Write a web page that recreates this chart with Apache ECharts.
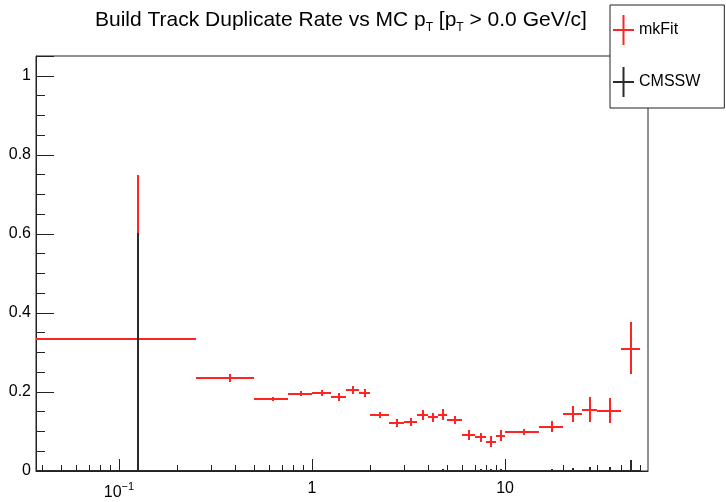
<!DOCTYPE html>
<html>
<head>
<meta charset="utf-8">
<script src="https://cdn.jsdelivr.net/npm/echarts@6/dist/echarts.min.js"></script>
<style>
  html, body { margin: 0; padding: 0; background: #fff; }
  #container { width: 726px; height: 502px; }
</style>
</head>
<body>
<div id="container"></div>
<script>
var font = 'Liberation Sans, Arial, Helvetica, sans-serif';

// pT bins (GeV/c)
var binLow    = [0, 0.25, 0.5, 0.75, 1.0, 1.25, 1.5, 1.75, 2.0, 2.5, 3.0, 3.5, 4.0, 4.5, 5, 6, 7, 8, 9, 10, 15, 20, 25, 30, 40];
var binHigh   = [0.25, 0.5, 0.75, 1.0, 1.25, 1.5, 1.75, 2.0, 2.5, 3.0, 3.5, 4.0, 4.5, 5, 6, 7, 8, 9, 10, 15, 20, 25, 30, 40, 50];
var binCenter = [0.125, 0.375, 0.625, 0.875, 1.125, 1.375, 1.625, 1.875, 2.25, 2.75, 3.25, 3.75, 4.25, 4.75, 5.5, 6.5, 7.5, 8.5, 9.5, 12.5, 17.5, 22.5, 27.5, 35, 45];

// mkFit duplicate rate and asymmetric errors
var mkFitRate    = [0.333, 0.235, 0.182, 0.196, 0.197, 0.188, 0.205, 0.197, 0.142, 0.122, 0.125, 0.142, 0.136, 0.142, 0.129, 0.091, 0.085, 0.074, 0.089, 0.099, 0.112, 0.144, 0.154, 0.152, 0.308];
var mkFitErrLow  = [0.25, 0.01, 0.005, 0.007, 0.008, 0.01, 0.01, 0.01, 0.008, 0.01, 0.01, 0.012, 0.012, 0.014, 0.01, 0.012, 0.012, 0.014, 0.014, 0.008, 0.014, 0.02, 0.03, 0.03, 0.062];
var mkFitErrHigh = [0.416, 0.01, 0.005, 0.007, 0.008, 0.01, 0.01, 0.01, 0.008, 0.01, 0.01, 0.012, 0.012, 0.014, 0.01, 0.012, 0.012, 0.014, 0.014, 0.008, 0.014, 0.02, 0.032, 0.032, 0.068];

// CMSSW: zero everywhere, only upper errors
var cmsswRate    = [0, 0, 0, 0, 0, 0, 0, 0, 0, 0, 0, 0, 0, 0, 0, 0, 0, 0, 0, 0, 0, 0, 0, 0, 0];
var cmsswErrLow  = [0, 0, 0, 0, 0, 0, 0, 0, 0, 0, 0, 0, 0, 0, 0, 0, 0, 0, 0, 0, 0, 0, 0, 0, 0];
var cmsswErrHigh = [0.602, 0, 0, 0, 0, 0, 0, 0, 0, 0, 0, 0, 0, 0.005, 0, 0, 0.005, 0.005, 0.005, 0, 0.005, 0.007, 0.009, 0.009, 0.027];

// axis ticks
var xMajorTicks = [0.1, 1, 10];
var xMinorTicks = [0.04, 0.05, 0.06, 0.07, 0.08, 0.09, 0.2, 0.3, 0.4, 0.5, 0.6, 0.7, 0.8, 0.9,
                   2, 3, 4, 5, 6, 7, 8, 9, 20, 30, 40, 50];
var yLabels = [0, 0.2, 0.4, 0.6, 0.8, 1];

var xMin = 0.0372, xMax = 55;
var red = '#ff2424', black = '#2a2a2a';

function buildData(rate, eLo, eHi) {
    var res = [];
    for (var i = 0; i < binCenter.length; i++) {
        res.push([binCenter[i], rate[i], binLow[i], binHigh[i], rate[i] - eLo[i], rate[i] + eHi[i]]);
    }
    return res;
}

// error bars drawn as 2px filled rects snapped to the pixel grid
function errorBars(color) {
    return function (params, api) {
        var x = api.value(0), y = api.value(1);
        var lo = Math.max(api.value(2), xMin), hi = Math.min(api.value(3), xMax);
        var pL = api.coord([lo, y]), pR = api.coord([hi, y]);
        var pB = api.coord([x, api.value(4)]), pT = api.coord([x, api.value(5)]);
        var yy = Math.round(pL[1]) - 1, xx = Math.round(pB[0]) - 1;
        var kids = [{
            type: 'rect',
            shape: {x: Math.round(pL[0]), y: yy, width: Math.round(pR[0]) - Math.round(pL[0]), height: 2},
            style: {fill: color, stroke: null}
        }];
        if (pB[1] - pT[1] > 0.5) {
            kids.push({
                type: 'rect',
                shape: {x: xx, y: Math.round(pT[1]), width: 2, height: Math.round(pB[1]) - Math.round(pT[1])},
                style: {fill: color, stroke: null}
            });
        }
        return {type: 'group', children: kids};
    };
}

function tickMarks(len) {
    return function (params, api) {
        var p = api.coord([api.value(0), 0]);
        var xx = Math.round(p[0]);
        return {
            type: 'rect',
            shape: {x: xx, y: p[1] - len, width: 1, height: len},
            style: {fill: '#222', stroke: null}
        };
    };
}

var dom = document.getElementById('container');
var myChart = echarts.init(dom);

var crossIcon = 'path://M0,14h21v2h-21z M9.5,0h2v30h-2z';

var option = {
    animation: false,
    backgroundColor: '#fff',
    title: {
        text: '{m|Build Track Duplicate Rate vs MC p}{s|T}{m| [p}{s|T}{m| > 0.0 GeV/c]}',
        left: 95,
        top: 10,
        padding: 0,
        textStyle: {
            fontFamily: font,
            fontSize: 21,
            fontWeight: 'normal',
            color: '#000',
            rich: {
                m: {fontFamily: font, fontSize: 21, color: '#000', verticalAlign: 'top', lineHeight: 24},
                s: {fontFamily: font, fontSize: 12, color: '#000', verticalAlign: 'bottom', lineHeight: 12, padding: [16, 0, 0, 0]}
            }
        }
    },
    legend: {
        left: 610,
        top: 5,
        orient: 'vertical',
        padding: [10, 24, 11, 3],
        itemWidth: 21,
        itemHeight: 30,
        itemGap: 22,
        backgroundColor: '#fff',
        borderColor: '#222',
        borderWidth: 1,
        borderRadius: 0,
        textStyle: {fontFamily: font, fontSize: 16, color: '#000'},
        data: [
            {name: 'mkFit', icon: crossIcon},
            {name: 'CMSSW', icon: crossIcon}
        ]
    },
    grid: {
        left: 36, right: 78, top: 56, bottom: 31,
        show: true,
        borderColor: '#222',
        borderWidth: 1
    },
    xAxis: {
        type: 'log',
        logBase: 10,
        min: xMin,
        max: xMax,
        axisLine: {lineStyle: {color: '#222', width: 1}},
        axisTick: {show: false},
        splitLine: {show: false},
        axisLabel: {
            margin: 10,
            fontFamily: font,
            fontSize: 16,
            color: '#000',
            formatter: function (v) {
                var e = Math.log10(v);
                var r = Math.round(e);
                if (Math.abs(e - r) > 1e-6) return '';
                if (r === 0) return '1';
                if (r === 1) return '10';
                return '{b|10}{s|\u2212' + Math.abs(r) + '}';
            },
            rich: {
                b: {fontFamily: font, fontSize: 16, color: '#000', lineHeight: 20, verticalAlign: 'bottom'},
                s: {fontFamily: font, fontSize: 11, color: '#000', lineHeight: 20, verticalAlign: 'top', padding: [0, 0, 8, 0]}
            }
        }
    },
    yAxis: [{
        type: 'value',
        position: 'left',
        min: 0,
        max: 1.05,
        interval: 0.05,
        axisLine: {show: true, lineStyle: {color: '#222', width: 1}},
        axisTick: {show: true, inside: true, length: 9, lineStyle: {color: '#222'}},
        splitLine: {show: false},
        axisLabel: {
            margin: 5,
            fontFamily: font,
            fontSize: 16,
            color: '#000',
            formatter: function (v) {
                for (var i = 0; i < yLabels.length; i++) {
                    if (Math.abs(v - yLabels[i]) < 1e-6) {
                        return yLabels[i] === 0 || yLabels[i] === 1 ? String(yLabels[i]) : yLabels[i].toFixed(1);
                    }
                }
                return '';
            }
        }
    }, {
        type: 'value',
        position: 'left',
        min: 0,
        max: 1.05,
        interval: 0.2,
        axisLine: {show: false},
        axisTick: {show: true, inside: true, length: 18, lineStyle: {color: '#222'}},
        axisLabel: {show: false},
        splitLine: {show: false}
    }],
    series: [
        {
            name: 'xMinor',
            type: 'custom',
            silent: true,
            clip: false,
            renderItem: tickMarks(6),
            data: xMinorTicks.map(function (v) { return [v, 0]; })
        },
        {
            name: 'xMajor',
            type: 'custom',
            silent: true,
            clip: false,
            renderItem: tickMarks(12),
            data: xMajorTicks.map(function (v) { return [v, 0]; })
        },
        {
            name: 'mkFit',
            type: 'custom',
            itemStyle: {color: red},
            renderItem: errorBars(red),
            encode: {x: 0, y: 1},
            clip: true,
            data: buildData(mkFitRate, mkFitErrLow, mkFitErrHigh)
        },
        {
            name: 'CMSSW',
            type: 'custom',
            itemStyle: {color: black},
            renderItem: errorBars(black),
            encode: {x: 0, y: 1},
            clip: true,
            data: buildData(cmsswRate, cmsswErrLow, cmsswErrHigh)
        }
    ]
};

myChart.setOption(option);
</script>
</body>
</html>
